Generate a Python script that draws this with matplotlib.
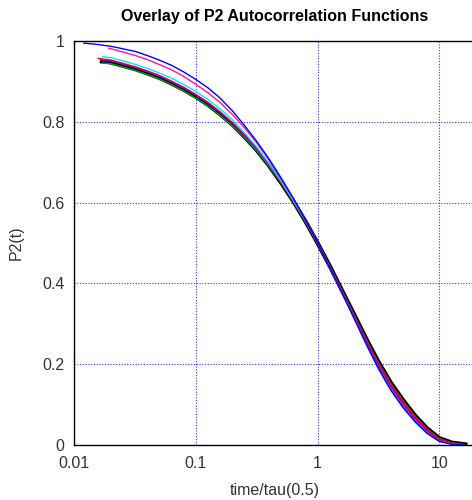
import matplotlib

matplotlib.use("Agg")
import matplotlib.pyplot as plt
from matplotlib.ticker import FixedLocator, NullLocator

plt.rcParams["font.family"] = ["Liberation Sans", "DejaVu Sans"]

# shared time grid (t / tau(0.5)); each run adds its own first and last samples
T_GRID = [0.02, 0.025, 0.032, 0.04, 0.05, 0.063, 0.079, 0.1, 0.126, 0.158,
          0.2, 0.251, 0.316, 0.398, 0.5, 0.631, 0.794, 1.0, 1.26, 1.585,
          2.0, 2.51, 3.16, 3.98, 5.01, 6.31, 7.94, 10.0, 12.6]

black_head_t, black_head_v = [0.0163], [0.950]
black_v = [0.947, 0.939, 0.930, 0.920, 0.909, 0.895, 0.880, 0.862, 0.842, 0.819,
           0.793, 0.763, 0.730, 0.692, 0.650, 0.604, 0.554, 0.500, 0.443, 0.383,
           0.323, 0.263, 0.206, 0.155, 0.112, 0.073, 0.041, 0.017, 0.006]
black_tail_t, black_tail_v = [15.8, 17.0], [0.002, 0.001]

green_head_t, green_head_v = [0.017], [0.946]
green_v = [0.944, 0.936, 0.927, 0.917, 0.906, 0.892, 0.877, 0.859, 0.839, 0.816,
           0.790, 0.761, 0.728, 0.690, 0.649, 0.603, 0.553, 0.500, 0.442, 0.382,
           0.321, 0.261, 0.204, 0.153, 0.110, 0.071, 0.039, 0.016, 0.005]
green_tail_t, green_tail_v = [16.0], [0.001]

red_head_t, red_head_v = [0.0155], [0.957]
red_v = [0.953, 0.945, 0.936, 0.926, 0.915, 0.901, 0.886, 0.868, 0.848, 0.825,
         0.798, 0.767, 0.733, 0.694, 0.652, 0.605, 0.555, 0.500, 0.442, 0.381,
         0.320, 0.259, 0.202, 0.151, 0.108, 0.069, 0.038, 0.015, 0.005]
red_tail_t, red_tail_v = [16.0], [0.001]

violet_head_t, violet_head_v = [0.0165], [0.953]
violet_v = [0.951, 0.943, 0.934, 0.924, 0.913, 0.899, 0.884, 0.866, 0.846, 0.823,
            0.796, 0.766, 0.732, 0.694, 0.651, 0.605, 0.555, 0.500, 0.441, 0.380,
            0.318, 0.256, 0.197, 0.145, 0.101, 0.064, 0.034, 0.012, 0.004]
violet_tail_t, violet_tail_v = [16.0], [0.001]

cyan_head_t, cyan_head_v = [0.0169], [0.961]
cyan_v = [0.959, 0.951, 0.942, 0.932, 0.921, 0.908, 0.893, 0.875, 0.855, 0.832,
          0.805, 0.773, 0.738, 0.698, 0.654, 0.606, 0.555, 0.500, 0.440, 0.377,
          0.312, 0.248, 0.188, 0.136, 0.093, 0.057, 0.028, 0.009, 0.002]
cyan_tail_t, cyan_tail_v = [15.0], [0.000]

magenta_head_t, magenta_head_v = [0.0191], [0.982]
magenta_v = [0.981, 0.973, 0.964, 0.954, 0.942, 0.929, 0.913, 0.893, 0.872, 0.848,
             0.818, 0.785, 0.748, 0.706, 0.660, 0.611, 0.557, 0.500, 0.440, 0.378,
             0.314, 0.251, 0.191, 0.138, 0.095, 0.059, 0.030, 0.010, 0.003]
magenta_tail_t, magenta_tail_v = [15.0], [0.000]

blue_head_t, blue_head_v = [0.0119, 0.015], [0.995, 0.992]
blue_v = [0.987, 0.981, 0.974, 0.964, 0.953, 0.940, 0.924, 0.905, 0.884, 0.859,
          0.827, 0.791, 0.752, 0.709, 0.662, 0.611, 0.557, 0.500, 0.440, 0.377,
          0.313, 0.250, 0.190, 0.137, 0.094, 0.058, 0.029, 0.009, 0.002]
blue_tail_t, blue_tail_v = [15.5], [0.000]

runs = [
    (black_head_t, black_head_v, black_v, black_tail_t, black_tail_v, "black", 3.0),
    (green_head_t, green_head_v, green_v, green_tail_t, green_tail_v, "#00a000", 1.0),
    (red_head_t, red_head_v, red_v, red_tail_t, red_tail_v, "#ff0000", 1.0),
    (violet_head_t, violet_head_v, violet_v, violet_tail_t, violet_tail_v, "#9400d3", 1.0),
    (cyan_head_t, cyan_head_v, cyan_v, cyan_tail_t, cyan_tail_v, "#00e5ff", 1.0),
    (magenta_head_t, magenta_head_v, magenta_v, magenta_tail_t, magenta_tail_v, "#ff1493", 1.0),
    (blue_head_t, blue_head_v, blue_v, blue_tail_t, blue_tail_v, "#0000ff", 1.0),
]

fig = plt.figure(figsize=(4.72, 5.0), dpi=100)
# right edge of the frame sits just past the canvas
ax = fig.add_axes([74 / 472, 55 / 500, 402 / 472, 404 / 500])

for ht, hv, v, tt, tv, color, lw in runs:
    ax.plot(ht + T_GRID + tt, hv + v + tv, color=color, lw=lw,
            solid_joinstyle="round", solid_capstyle="butt")

ax.set_xscale("log")
ax.set_xlim(0.01, 20)
ax.set_ylim(0, 1)

ax.xaxis.set_major_locator(FixedLocator([0.01, 0.1, 1, 10]))
ax.xaxis.set_minor_locator(NullLocator())
ax.set_xticklabels(["0.01", "0.1", "1", "10"])
ax.yaxis.set_major_locator(FixedLocator([0, 0.2, 0.4, 0.6, 0.8, 1]))
ax.set_yticklabels(["0", "0.2", "0.4", "0.6", "0.8", "1"])
ax.tick_params(length=0, labelsize=11.5, labelcolor="#333333")
ax.tick_params(axis="x", pad=8)
ax.tick_params(axis="y", pad=7)

ax.grid(True, color="#0000ff", linestyle=(0, (1, 1.5)), linewidth=0.8, alpha=0.8)
ax.set_axisbelow(True)
for side in ax.spines.values():
    side.set_linewidth(1.0)

fig.text(275 / 472, 1 - 490 / 500, "time/tau(0.5)", ha="center", va="center",
         fontsize=11.5, color="#333333")
fig.text(16 / 472, 1 - 243 / 500, "P2(t)", ha="center", va="center",
         rotation=90, fontsize=11.5, color="#333333")
fig.text(275 / 472, 1 - 17 / 500, "Overlay of P2 Autocorrelation Functions",
         ha="center", va="center", fontsize=11.5, fontweight="bold")

fig.savefig("out.png", dpi=100)
